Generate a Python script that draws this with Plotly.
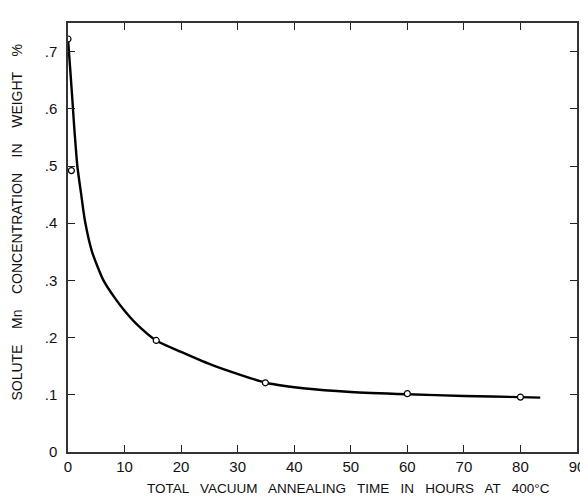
import plotly.graph_objects as go

# measured points (open circles)
time_pts = [0, 0.6, 15.6, 34.9, 60, 80]
mn_pts = [0.722, 0.492, 0.195, 0.121, 0.102, 0.096]

# hand-drawn fitted curve
curve_x = [0, 0.4, 0.8, 1.07, 1.65, 2.34, 2.98, 4.25, 6.27, 8.3, 10, 12, 15.6, 20, 26, 35, 42, 50, 60, 70, 80, 83.5]
curve_y = [0.722, 0.668, 0.612, 0.572, 0.50, 0.45, 0.405, 0.35, 0.30, 0.269, 0.247, 0.225, 0.195, 0.175, 0.150, 0.121, 0.111, 0.105, 0.101, 0.098, 0.096, 0.095]

x_ticks = [0, 10, 20, 30, 40, 50, 60, 70, 80, 90]
y_ticks = [0, 0.1, 0.2, 0.3, 0.4, 0.5, 0.6, 0.7]
y_labels = ["0", ".1", ".2", ".3", ".4", ".5", ".6", ".7"]

fig = go.Figure()
fig.add_trace(go.Scatter(x=curve_x, y=curve_y, mode="lines",
                         line=dict(color="black", width=2.4, shape="spline", smoothing=0.6),
                         hoverinfo="skip"))
fig.add_trace(go.Scatter(x=time_pts, y=mn_pts, mode="markers",
                         marker=dict(symbol="circle", size=6, color="white",
                                     line=dict(width=1.2, color="black"))))

axis_common = dict(showline=True, linecolor="#333", linewidth=1.5, mirror="ticks",
                   ticks="inside", ticklen=7, tickwidth=1.3, tickcolor="#222",
                   showgrid=False, zeroline=False,
                   tickfont=dict(family="Liberation Sans, Arial", size=15, color="#111"))

fig.update_xaxes(range=[0, 90], tickvals=x_ticks, ticktext=[str(v) for v in x_ticks], **axis_common)
fig.update_yaxes(range=[0, 0.75], tickvals=y_ticks, ticktext=y_labels,
                 ticklabelstandoff=6, **axis_common)

fig.add_annotation(text="TOTAL   VACUUM   ANNEALING   TIME   IN   HOURS   AT   400°C",
                   xref="paper", yref="paper", x=0.551, y=-0.085, showarrow=False,
                   xanchor="center", yanchor="middle",
                   font=dict(family="Liberation Sans, Arial", size=13.5, color="#111"))
fig.add_annotation(text="SOLUTE    Mn    CONCENTRATION    IN    WEIGHT    %",
                   xref="paper", yref="paper", x=-0.1, y=0.535, showarrow=False,
                   textangle=-90, xanchor="center", yanchor="middle",
                   font=dict(family="Liberation Sans, Arial", size=14, color="#111"))

fig.update_layout(width=588, height=498, showlegend=False,
                  margin=dict(l=60, r=11, t=15, b=54),
                  plot_bgcolor="white", paper_bgcolor="white")

fig.write_html("out.html")
